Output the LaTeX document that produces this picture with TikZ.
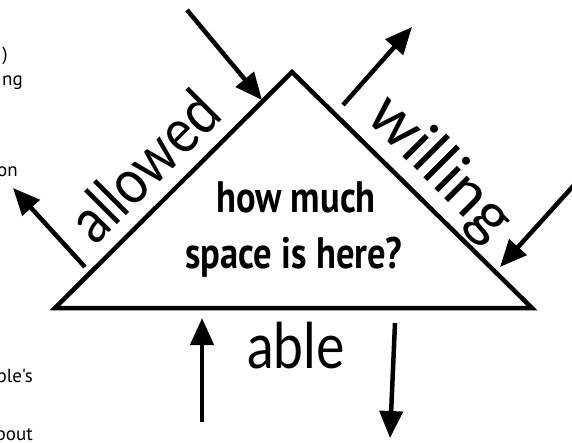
\documentclass[tikz,border=0pt]{standalone}
\usepackage{fontspec}
\usepackage{tikz}
\usetikzlibrary{arrows.meta}
\setmainfont{Lato}
\newfontfamily\labelfont{Lato}[FakeStretch=0.85]
\newfontfamily\widefont{Lato}
\newfontfamily\askfont{PT Sans}[FakeStretch=0.83]
\newfontfamily\notefont{PT Sans}

\begin{document}
\begin{tikzpicture}[x=1pt, y=-1pt,
    side/.style={font=\labelfont\fontsize{63}{63}\selectfont, inner sep=0pt, anchor=base},
    ask/.style={font=\askfont\bfseries\fontsize{44}{44}\selectfont, inner sep=0pt, anchor=base},
    push/.style={line width=4.5pt, -{Triangle[length=27pt, width=23pt]}},
    note/.style={font=\notefont\fontsize{19}{19}\selectfont, inner sep=0pt, anchor=base east}]
    \useasboundingbox (0, 0) rectangle (572, 442);
    \clip (0, 0) rectangle (572, 442);

    % triangle
    \coordinate (top) at (292, 72);
    \coordinate (lft) at (55, 308);
    \coordinate (rgt) at (532, 308);
    \draw[line width=4.5pt, line join=miter, fill=white] (top) -- (rgt) -- (lft) -- cycle;

    % question inside
    \node[ask] (how) at (296, 212) {how much};
    \node[ask] (space) at (294, 268) {space is here?};

    % side labels
    \node[side, rotate=45] (allowed) at (160, 182) {allowed};
    \node[side, font=\widefont\fontsize{63}{63}\selectfont, rotate=-45] (willing) at (427, 181) {willing};
    \node[side] (able) at (296, 368) {able};

    % arrows
    \coordinate (alin) at (187, 10);   \coordinate (alin tip) at (262, 100);
    \coordinate (alout) at (85, 267);  \coordinate (alout tip) at (13, 188);
    \coordinate (wiout) at (343, 105); \coordinate (wiout tip) at (412, 27);
    \coordinate (wiin) at (575, 184);  \coordinate (wiin tip) at (500, 267);
    \coordinate (abin) at (202, 422);  \coordinate (abin tip) at (202, 318);
    \coordinate (about) at (395, 323); \coordinate (about tip) at (390, 438);
    \draw[push] (alin) -- (alin tip);
    \draw[push] (alout) -- (alout tip);
    \draw[push] (wiout) -- (wiout tip);
    \draw[push] (wiin) -- (wiin tip);
    \draw[push] (abin) -- (abin tip);
    \draw[push] (about) -- (about tip);

    % cut-off notes at the left edge
    \node[note] (n1) at (8, 60) {)};
    \node[note] (n2) at (23, 85) {ng};
    \node[note] (n3) at (18, 176) {on};
    \node[note] (n4) at (33, 382) {ple's};
    \node[note] (n5) at (33, 440) {bout};
\end{tikzpicture}
\end{document}
